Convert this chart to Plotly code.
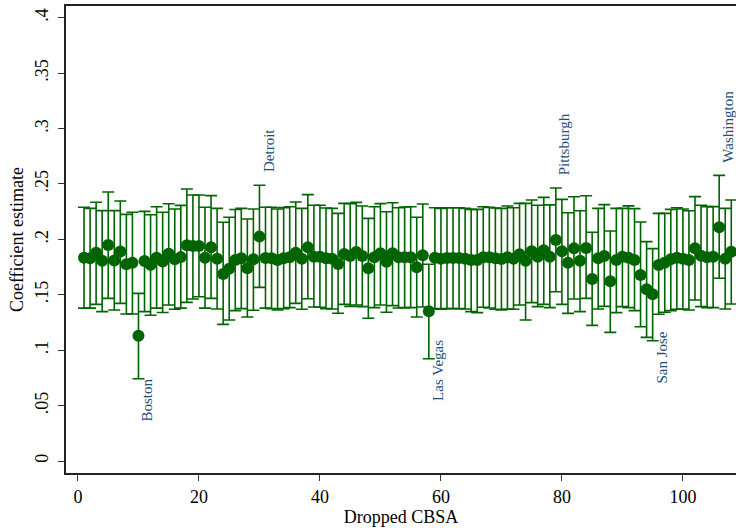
import plotly.graph_objects as go

# Index of the dropped CBSA (leave-one-out runs)
cbsa_index = list(range(1, 109))

# Point estimates
estimate = [
    0.1835, 0.1830, 0.1880, 0.1808, 0.1950, 0.1810, 0.1890, 0.1775, 0.1790, 0.1130,
    0.1805, 0.1770, 0.1835, 0.1800, 0.1870, 0.1820, 0.1840, 0.1947, 0.1940, 0.1940,
    0.1835, 0.1928, 0.1826, 0.1688, 0.1736, 0.1814, 0.1829, 0.1739, 0.1820, 0.2025,
    0.1832, 0.1830, 0.1814, 0.1830, 0.1838, 0.1880, 0.1826, 0.1928, 0.1844, 0.1844,
    0.1830, 0.1826, 0.1778, 0.1868, 0.1850, 0.1887, 0.1850, 0.1739, 0.1838, 0.1874,
    0.1799, 0.1874, 0.1838, 0.1838, 0.1838, 0.1748, 0.1856, 0.1351, 0.1835, 0.1826,
    0.1832, 0.1832, 0.1832, 0.1826, 0.1814, 0.1814, 0.1838, 0.1838, 0.1829, 0.1823,
    0.1838, 0.1826, 0.1865, 0.1808, 0.1892, 0.1844, 0.1901, 0.1844, 0.1995, 0.1892,
    0.1790, 0.1919, 0.1808, 0.1922, 0.1643, 0.1829, 0.1850, 0.1622, 0.1814, 0.1844,
    0.1835, 0.1814, 0.1679, 0.1550, 0.1504, 0.1769, 0.1790, 0.1820, 0.1835, 0.1826,
    0.1814, 0.1920, 0.1853, 0.1838, 0.1844, 0.2109, 0.1826, 0.1889,
]

# Lower bound of the confidence interval
ci_low = [
    0.1380, 0.1380, 0.1414, 0.1348, 0.1468, 0.1363, 0.1423, 0.1327, 0.1327, 0.0743,
    0.1348, 0.1315, 0.1380, 0.1340, 0.1408, 0.1369, 0.1380, 0.1432, 0.1462, 0.1483,
    0.1380, 0.1468, 0.1372, 0.1233, 0.1273, 0.1357, 0.1375, 0.1300, 0.1360, 0.1567,
    0.1380, 0.1375, 0.1363, 0.1375, 0.1384, 0.1423, 0.1369, 0.1464, 0.1390, 0.1387,
    0.1375, 0.1372, 0.1333, 0.1414, 0.1396, 0.1408, 0.1393, 0.1288, 0.1384, 0.1408,
    0.1342, 0.1402, 0.1381, 0.1384, 0.1384, 0.1300, 0.1390, 0.0923, 0.1375, 0.1369,
    0.1375, 0.1375, 0.1375, 0.1372, 0.1348, 0.1339, 0.1387, 0.1381, 0.1369, 0.1363,
    0.1372, 0.1369, 0.1408, 0.1273, 0.1429, 0.1393, 0.1414, 0.1384, 0.1528, 0.1414,
    0.1332, 0.1462, 0.1348, 0.1468, 0.1224, 0.1372, 0.1396, 0.1161, 0.1339, 0.1393,
    0.1384, 0.1357, 0.1212, 0.1116, 0.1086, 0.1324, 0.1342, 0.1357, 0.1369, 0.1372,
    0.1363, 0.1453, 0.1393, 0.1384, 0.1384, 0.1649, 0.1372, 0.1417,
]

# Upper bound of the confidence interval
ci_high = [
    0.2290, 0.2280, 0.2335, 0.2260, 0.2428, 0.2260, 0.2347, 0.2226, 0.2245, 0.1513,
    0.2253, 0.2223, 0.2295, 0.2245, 0.2322, 0.2274, 0.2307, 0.2455, 0.2400, 0.2400,
    0.2290, 0.2395, 0.2280, 0.2154, 0.2200, 0.2270, 0.2280, 0.2184, 0.2274, 0.2488,
    0.2290, 0.2290, 0.2274, 0.2287, 0.2295, 0.2337, 0.2280, 0.2404, 0.2308, 0.2308,
    0.2283, 0.2280, 0.2235, 0.2325, 0.2323, 0.2334, 0.2301, 0.2190, 0.2295, 0.2323,
    0.2250, 0.2331, 0.2286, 0.2292, 0.2295, 0.2200, 0.2320, 0.1775, 0.2286, 0.2280,
    0.2286, 0.2286, 0.2286, 0.2280, 0.2271, 0.2271, 0.2295, 0.2289, 0.2283, 0.2280,
    0.2301, 0.2286, 0.2325, 0.2325, 0.2355, 0.2308, 0.2379, 0.2311, 0.2464, 0.2361,
    0.2241, 0.2385, 0.2259, 0.2394, 0.2064, 0.2280, 0.2314, 0.2076, 0.2280, 0.2280,
    0.2302, 0.2278, 0.2157, 0.1980, 0.1917, 0.2235, 0.2235, 0.2271, 0.2286, 0.2274,
    0.2259, 0.2386, 0.2308, 0.2296, 0.2296, 0.2578, 0.2280, 0.2356,
]

# Named CBSAs
label_names = ["Boston", "Detroit", "Las Vegas", "Pittsburgh", "San Jose", "Washington"]
label_index = [10, 30, 58, 79, 95, 106]
label_pos = [0.055, 0.2802, 0.0821, 0.2857, 0.093, 0.3019]

y_tick_vals = [0, 0.05, 0.1, 0.15, 0.2, 0.25, 0.3, 0.35, 0.4]
y_tick_text = ["0", ".05", ".1", ".15", ".2", ".25", ".3", ".35", ".4"]
x_tick_vals = [0, 20, 40, 60, 80, 100]

GREEN = "#006400"
LABEL_BLUE = "#1f4e79"
FONT = "Liberation Serif"

err_plus = [h - e for h, e in zip(ci_high, estimate)]
err_minus = [e - l for e, l in zip(estimate, ci_low)]

fig = go.Figure()
fig.add_trace(go.Scatter(
    x=cbsa_index,
    y=estimate,
    mode="markers",
    marker=dict(color=GREEN, size=12, line=dict(width=0)),
    error_y=dict(
        type="data",
        symmetric=False,
        array=err_plus,
        arrayminus=err_minus,
        color=GREEN,
        thickness=1.6,
        width=6,
    ),
    showlegend=False,
))

for name, idx, ypos in zip(label_names, label_index, label_pos):
    fig.add_annotation(
        x=idx, y=ypos, xref="x", yref="y",
        text=name, showarrow=False, textangle=-90,
        xanchor="center", yanchor="middle", xshift=9,
        font=dict(family=FONT, size=15, color=LABEL_BLUE),
    )

fig.update_layout(
    width=736, height=528,
    margin=dict(l=66, r=0, t=6, b=55),
    paper_bgcolor="white",
    plot_bgcolor="white",
    font=dict(family=FONT, color="black"),
    xaxis=dict(
        range=[-1.98, 108.78],
        tickvals=x_tick_vals,
        ticks="outside", ticklen=6, tickwidth=1.2, tickcolor="#333",
        showline=True, linecolor="#222", linewidth=1.8, mirror=True,
        showgrid=False, zeroline=False,
        tickfont=dict(family=FONT, size=18, color="black"),
        title=dict(text="Dropped CBSA", font=dict(family=FONT, size=18, color="black"), standoff=5),
    ),
    yaxis=dict(
        range=[-0.0108, 0.4106],
        tickvals=y_tick_vals,
        ticktext=y_tick_text,
        tickangle=-90,
        ticks="outside", ticklen=6, tickwidth=1.2, tickcolor="#333",
        ticklabelstandoff=3,
        showline=True, linecolor="#222", linewidth=1.8, mirror=False,
        showgrid=False, zeroline=False,
        tickfont=dict(family=FONT, size=18, color="black"),
        title=dict(text="Coefficient estimate", font=dict(family=FONT, size=18, color="black"), standoff=4),
    ),
)

fig.write_html("out.html")
